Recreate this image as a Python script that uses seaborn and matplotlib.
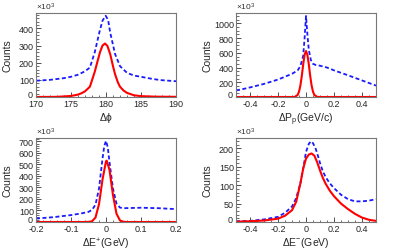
import numpy as np
import matplotlib
matplotlib.use("Agg")
import matplotlib.pyplot as plt
import matplotlib.transforms as mtransforms
import seaborn as sns
from matplotlib.ticker import MultipleLocator, FuncFormatter

# values in units of 10^3 counts, read off the reference
# panel 1: delta phi
phi_full_x = [170, 172, 174, 175, 176, 177, 177.7, 178.4, 179.1, 179.5, 179.95,
              180.3, 180.6, 181.3, 182, 183, 184, 185, 186, 187.2, 188, 190]
phi_full_y = [95, 100, 110, 118, 130, 150, 172, 262, 385, 445, 474,
              450, 376, 250, 180, 141, 125, 118, 110, 102, 98, 92]
phi_sel_x = [170, 173, 175, 176, 176.5, 177, 177.7, 178.4, 178.8, 179.15, 179.5, 179.86,
             180.2, 180.6, 181, 181.3, 181.7, 182, 182.5, 183, 184, 185, 187, 190]
phi_sel_y = [0, 1, 6, 14, 22, 33, 60, 148, 210, 262, 300, 312,
             298, 250, 180, 132, 85, 60, 38, 24, 10, 5, 2, 1]

# panel 2: delta P_p
pp_full_x = [-0.5, -0.45, -0.4, -0.3, -0.2, -0.1, -0.06, -0.04, -0.02, -0.01, 0,
             0.01, 0.02, 0.035, 0.05, 0.07, 0.1, 0.15, 0.2, 0.3, 0.4, 0.5]
pp_full_y = [90, 108, 130, 178, 237, 315, 360, 420, 560, 800, 1100,
             850, 640, 500, 450, 435, 425, 400, 362, 295, 225, 155]
pp_sel_x = [-0.5, -0.1, -0.08, -0.06, -0.05, -0.04, -0.03, -0.02, -0.01, 0,
            0.01, 0.02, 0.03, 0.04, 0.05, 0.06, 0.08, 0.1, 0.5]
pp_sel_y = [0, 0, 2, 27, 72, 156, 286, 444, 574, 625,
            574, 444, 286, 156, 72, 27, 2, 0, 0]

# panel 3: delta E+
ep_full_x = [-0.2, -0.15, -0.1, -0.07, -0.05, -0.04, -0.03, -0.02, -0.01, -0.005, 0,
             0.005, 0.01, 0.02, 0.03, 0.04, 0.05, 0.1, 0.15, 0.2]
ep_full_y = [30, 42, 60, 75, 88, 105, 150, 290, 550, 660, 705,
             650, 520, 290, 160, 125, 120, 124, 120, 112]
ep_sel_x = [-0.2, -0.06, -0.05, -0.04, -0.03, -0.02, -0.01, 0, 0.002,
            0.01, 0.02, 0.03, 0.04, 0.05, 0.06, 0.2]
ep_sel_y = [0, 0, 1, 6, 39, 155, 369, 528, 533,
            453, 233, 72, 13, 2, 0, 0]

# panel 4: delta E-
em_full_x = [-0.5, -0.4, -0.3, -0.2, -0.15, -0.1, -0.07, -0.04, -0.02, 0, 0.02, 0.035,
             0.05, 0.07, 0.085, 0.1, 0.12, 0.14, 0.17, 0.2, 0.25, 0.3, 0.35, 0.4, 0.45, 0.5]
em_full_y = [2, 3, 7, 14, 25, 42, 65, 105, 145, 190, 212, 219,
             214, 198, 180, 160, 138, 122, 105, 92, 74, 62, 56, 56, 58, 62]
em_sel_x = [-0.5, -0.4, -0.3, -0.2, -0.15, -0.1, -0.07, -0.04, -0.02, 0, 0.02, 0.04,
            0.06, 0.08, 0.1, 0.12, 0.14, 0.17, 0.2, 0.25, 0.3, 0.35, 0.4, 0.45, 0.5]
em_sel_y = [1, 2, 4, 9, 17, 32, 55, 105, 145, 172, 183, 186,
            180, 162, 140, 120, 104, 85, 70, 50, 35, 22, 12, 6, 3]

xlabels = [r"$\Delta\phi$", r"$\Delta$P$_{p}$(GeV/c)", r"$\Delta$E$^{+}$(GeV)", r"$\Delta$E$^{-}$(GeV)"]

sns.set_style("ticks")
plt.rcParams["font.family"] = ["Liberation Sans", "DejaVu Sans"]
plt.rcParams["mathtext.fontset"] = "custom"
plt.rcParams["mathtext.rm"] = "Liberation Sans"
plt.rcParams["mathtext.it"] = "Liberation Sans:italic"
plt.rcParams["mathtext.default"] = "regular"
plt.rcParams["axes.unicode_minus"] = False

fig = plt.figure(figsize=(3.99, 2.51), dpi=100)
W, H = 399, 251
boxes = [(36, 14), (236, 14), (36, 139), (236, 139)]
aw, ah = 140, 84

panels = [
    (phi_full_x, phi_full_y, phi_sel_x, phi_sel_y, (170, 190), (0, 490), 5, 1, 100, 20),
    (pp_full_x, pp_full_y, pp_sel_x, pp_sel_y, (-0.5, 0.5), (0, 1141), 0.2, 0.05, 200, 50),
    (ep_full_x, ep_full_y, ep_sel_x, ep_sel_y, (-0.2, 0.2), (0, 730), 0.1, 0.02, 100, 20),
    (em_full_x, em_full_y, em_sel_x, em_sel_y, (-0.5, 0.5), (0, 228), 0.2, 0.05, 50, 10),
]

fmt = FuncFormatter(lambda v, p: "%g" % round(v, 6))

for (l, t), lab, (fx, fy, sx, sy, xl, yl, xmaj, xmin, ymaj, ymin) in zip(boxes, xlabels, panels):
    ax = fig.add_axes([l / W, 1 - (t + ah) / H, aw / W, ah / H])
    sns.lineplot(x=fx, y=fy, ax=ax, color="#1a1aff", linestyle=(0, (2.2, 1.4)), lw=1.3)
    sns.lineplot(x=sx, y=sy, ax=ax, color="#ff0000", lw=1.5)
    ax.set_xlim(*xl)
    ax.set_ylim(*yl)
    ax.xaxis.set_major_locator(MultipleLocator(xmaj))
    ax.xaxis.set_minor_locator(MultipleLocator(xmin))
    ax.yaxis.set_major_locator(MultipleLocator(ymaj))
    ax.yaxis.set_minor_locator(MultipleLocator(ymin))
    ax.xaxis.set_major_formatter(fmt)
    ax.yaxis.set_major_formatter(fmt)
    ax.tick_params(which="both", direction="in", labelsize=6.5, pad=1.5, color="#333333")
    ax.tick_params(which="major", length=3.5, width=0.6)
    ax.tick_params(which="minor", length=1.8, width=0.5)
    for s in ax.spines.values():
        s.set_color("#777777")
        s.set_linewidth(0.8)
    ax.set_xlabel(lab, fontsize=7.5)
    ax.set_ylabel("Counts", fontsize=7.5)
    ax.xaxis.set_label_coords(0.5, -0.16)
    ax.yaxis.set_label_coords(-0.165, 0.5)
    ax.text(0.0, 1.01, r"$\times$10$^{3}$", transform=ax.transAxes, fontsize=6,
            ha="left", va="bottom", color="#333333")
    # lift the zero label a little, as in the reference
    fig.canvas.draw()
    for tl in ax.get_yticklabels():
        if tl.get_text() == "0":
            tl.set_transform(tl.get_transform() +
                             mtransforms.ScaledTranslation(-1 / 72, 2.5 / 72, fig.dpi_scale_trans))

fig.savefig("out.png", dpi=100)
